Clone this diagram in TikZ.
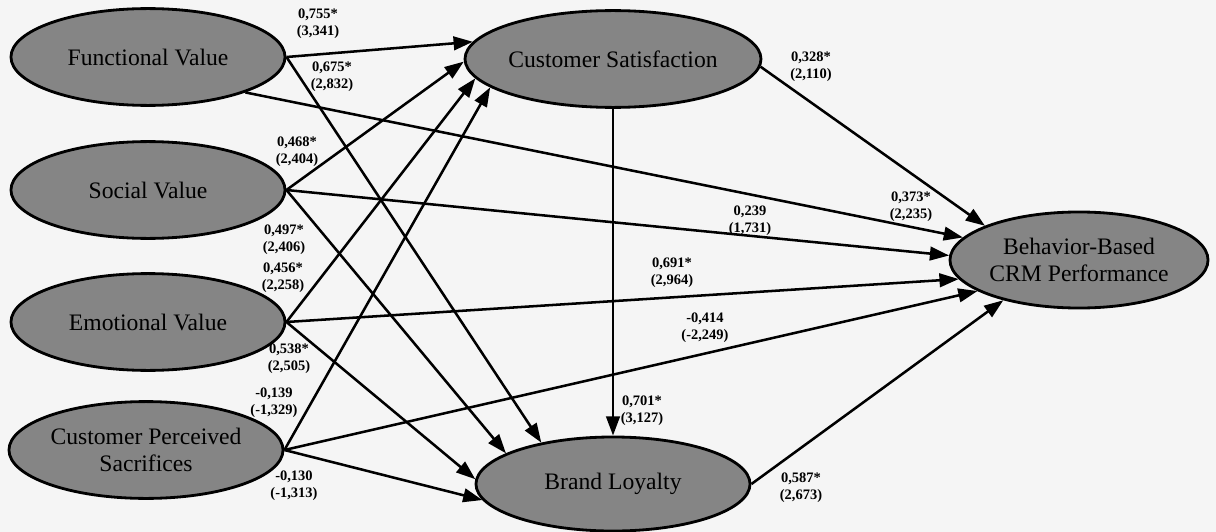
\documentclass[tikz,border=0pt]{standalone}
\usepackage{fontspec}
\setmainfont{Liberation Serif}
\usetikzlibrary{arrows.meta}
\usetikzlibrary{shapes.geometric}

\begin{document}
\begin{tikzpicture}[x=0.025cm, y=-0.025cm,
        latent/.style={ellipse, draw, line width=2pt, fill=black!48, inner sep=0pt,
            minimum width=6.85cm, minimum height=2.42cm, align=center,
            font=\fontsize{16.8}{19.5}\selectfont},
        effect/.style={line width=1.8pt, -{Triangle[length=4.8mm, width=3.4mm]}},
        coef/.style={align=center, inner sep=0pt, font=\bfseries\fontsize{10.3}{12}\selectfont}]
                \fill[black!4] (0,0) rectangle (1216,532);
                \useasboundingbox (0,0) rectangle (1216,532);
                % constructs
                \node[latent] (fv) at (148,57) {Functional Value};
                \node[latent] (sv) at (148,190) {Social Value};
                \node[latent] (ev) at (148,322) {Emotional Value};
                \node[latent] (cps) at (146,450) {Customer Perceived\\Sacrifices};
                \node[latent] (cs) at (613,59) {Customer Satisfaction};
                \node[latent, minimum height=2.35cm] (bl) at (613,484) {Brand Loyalty};
                \node[latent, minimum width=6.45cm, minimum height=2.4cm] (bcrm) at (1079,260) {Behavior-Based\\CRM Performance};
                % paths
                \draw[effect] (fv.east) -- (cs.173);
                \draw[effect] (fv.east) -- (bl.150);
                \draw[effect] (fv.-20) -- (bcrm.169);
                \draw[effect] (sv.east) -- (cs.181);
                \draw[effect] (sv.east) -- (bl.164);
                \draw[effect] (sv.east) -- (bcrm.178);
                \draw[effect] (ev.east) -- (cs.188);
                \draw[effect] (ev.east) -- (bl.178);
                \draw[effect] (ev.east) -- (bcrm.189);
                \draw[effect] (cps.east) -- (cs.193);
                \draw[effect] (cps.east) -- (bl.187);
                \draw[effect] (cps.east) -- (bcrm.197);
                \draw[effect] (cs) -- (bl);
                \draw[effect] (cs.-3) -- (bcrm.160);
                \draw[effect] (bl.east) -- (bcrm.208);
                % coefficients (t-values)
                \node[coef] (c1) at (318,24) {0,755*\\(3,341)};
                \node[coef] (c2) at (332,77) {0,675*\\(2,832)};
                \node[coef] (c3) at (297,152) {0,468*\\(2,404)};
                \node[coef] (c4) at (284,240) {0,497*\\(2,406)};
                \node[coef] (c5) at (283,278) {0,456*\\(2,258)};
                \node[coef] (c6) at (289,359) {0,538*\\(2,505)};
                \node[coef] (c7) at (274,403) {-0,139\\(-1,329)};
                \node[coef] (c8) at (294,486) {-0,130\\(-1,313)};
                \node[coef] (c9) at (811,67) {0,328*\\(2,110)};
                \node[coef] (c10) at (750,221) {0,239\\(1,731)};
                \node[coef] (c11) at (672,273) {0,691*\\(2,964)};
                \node[coef] (c12) at (705,328) {-0,414\\(-2,249)};
                \node[coef] (c13) at (642,411) {0,701*\\(3,127)};
                \node[coef] (c14) at (801,488) {0,587*\\(2,673)};
                \node[coef] (c15) at (911,207) {0,373*\\(2,235)};
            \end{tikzpicture}
\end{document}
